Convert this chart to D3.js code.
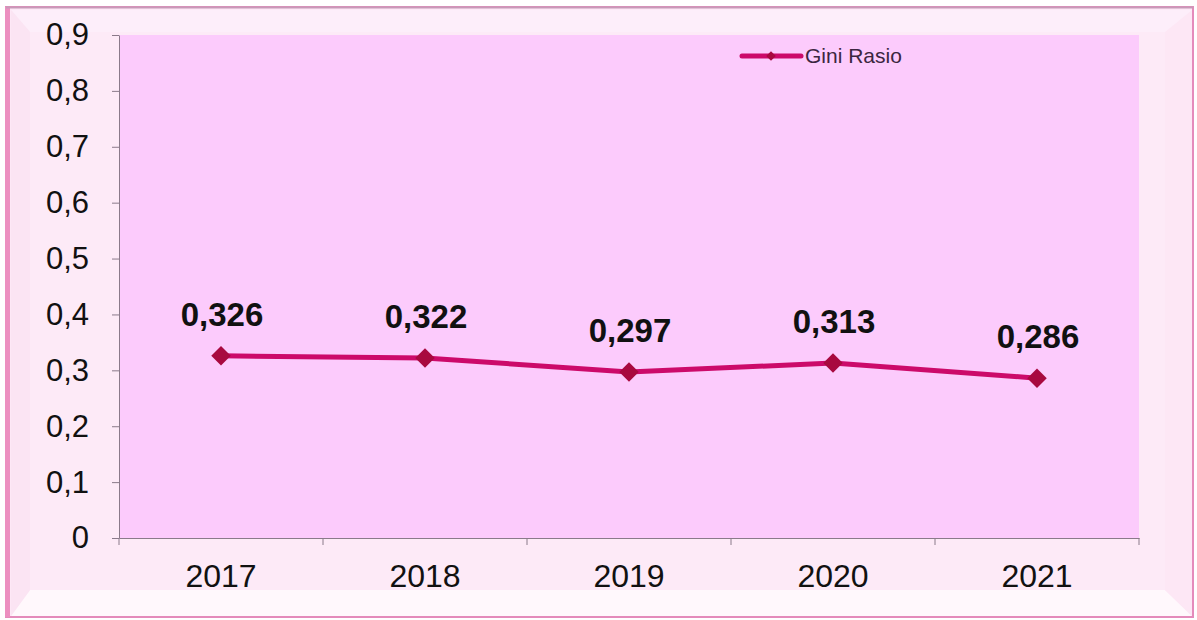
<!DOCTYPE html>
<html><head><meta charset="utf-8">
<script src="https://cdn.jsdelivr.net/npm/d3@7"></script>
<style>body{margin:0;background:#fff;}svg{display:block;font-family:Arial,"Liberation Sans",sans-serif;}</style>
</head><body>
<svg id="c" width="1197" height="620"></svg>
<script>
const years = ["2017","2018","2019","2020","2021"];
const gini = [0.326,0.322,0.297,0.313,0.286];
const giniLabels = ["0,326","0,322","0,297","0,313","0,286"];
const yTicks = [0,0.1,0.2,0.3,0.4,0.5,0.6,0.7,0.8,0.9];
const seriesName = "Gini Rasio";

const svg = d3.select("#c");
const plot = {l:119, r:1139, t:35, b:538};
const FF = "Arial, Liberation Sans, sans-serif";

// outer frame
svg.append("rect").attr("x",6).attr("y",7).attr("width",1187).attr("height",610)
  .attr("fill","#fde8f6").attr("stroke","#e48bbb").attr("stroke-width",2);
// bevels
svg.append("polygon").attr("points","11,616 30,590 1165,590 1192,616").attr("fill","#fff8fc");
svg.append("polygon").attr("points","1165,32 1192,10 1192,616 1165,590").attr("fill","#fde7f5");
svg.append("polygon").attr("points","11,10 1192,10 1165,32 30,32").attr("fill","#fdeefa");
svg.append("polygon").attr("points","11,10 30,32 30,590 11,616").attr("fill","#fbe4f3");
svg.append("rect").attr("x",30).attr("y",32).attr("width",1135).attr("height",558).attr("fill","#fdeaf7");
svg.append("rect").attr("x",5).attr("y",7).attr("width",5).attr("height",610).attr("fill","#ec8fc0");
svg.append("line").attr("x1",6).attr("x2",1193).attr("y1",7.5).attr("y2",7.5).attr("stroke","#c79ab8").attr("stroke-width",2);

// plot bg
svg.append("rect").attr("x",plot.l).attr("y",plot.t).attr("width",plot.r-plot.l).attr("height",plot.b-plot.t)
  .attr("fill","#fccbfc");

const x = d3.scaleBand().domain(years).range([plot.l,plot.r]);
const y = d3.scaleLinear().domain([0,0.9]).range([plot.b,plot.t]);

// y axis
const ya = svg.append("g").attr("transform",`translate(${plot.l},0)`)
  .call(d3.axisLeft(y).tickValues(yTicks).tickSize(7).tickSizeOuter(0)
    .tickFormat(d=>d3.format(".1f")(d).replace(".",",").replace(/^0,0$/,"0")));
ya.select(".domain").attr("stroke","#8a7a8a");
ya.selectAll(".tick line").attr("stroke","#8a7a8a");
ya.selectAll(".tick text").attr("font-size",31).attr("fill","#111").attr("x",-30).attr("font-family",FF);

// x axis
const xa = svg.append("g").attr("transform",`translate(0,${plot.b})`)
  .call(d3.axisBottom(x).tickSize(0).tickSizeOuter(0));
xa.select(".domain").attr("stroke","#8a7a8a");
xa.selectAll(".tick text").attr("font-size",32).attr("fill","#111").attr("dy",0).attr("y",49).attr("font-family",FF);
const bounds = years.map(d=>x(d)).concat([plot.r]);
xa.selectAll(".bt").data(bounds).enter().append("line")
  .attr("x1",d=>d).attr("x2",d=>d).attr("y1",0).attr("y2",7).attr("stroke","#8a7a8a");

const cx = d=>x(d)+x.bandwidth()/2;
const line = d3.line().x((d,i)=>cx(years[i])).y(d=>y(d));
svg.append("path").datum(gini).attr("d",line).attr("fill","none")
  .attr("stroke","#cc0a6a").attr("stroke-width",5).attr("stroke-linejoin","round");
svg.selectAll(".pt").data(gini).enter().append("path")
  .attr("d",d3.symbol().type(d3.symbolSquare).size(190))
  .attr("transform",(d,i)=>`translate(${cx(years[i])},${y(d)}) rotate(45)`)
  .attr("fill","#a8093f");
svg.selectAll(".lbl").data(gini).enter().append("text")
  .attr("x",(d,i)=>cx(years[i])+1).attr("y",d=>y(d)-30)
  .attr("text-anchor","middle").attr("font-size",33).attr("font-weight","bold").attr("fill","#111")
  .attr("font-family",FF)
  .text((d,i)=>giniLabels[i]);

// legend
const lg = svg.append("g");
lg.append("line").attr("x1",742).attr("x2",801).attr("y1",56).attr("y2",56).attr("stroke","#cc0a6a").attr("stroke-width",5).attr("stroke-linecap","round");
lg.append("path").attr("d",d3.symbol().type(d3.symbolSquare).size(45)).attr("transform","translate(771,56) rotate(45)").attr("fill","#a8093f");
lg.append("text").attr("x",805).attr("y",63).attr("font-size",21).attr("fill","#3b2640").attr("font-family",FF).text(seriesName);
</script>
</body></html>
